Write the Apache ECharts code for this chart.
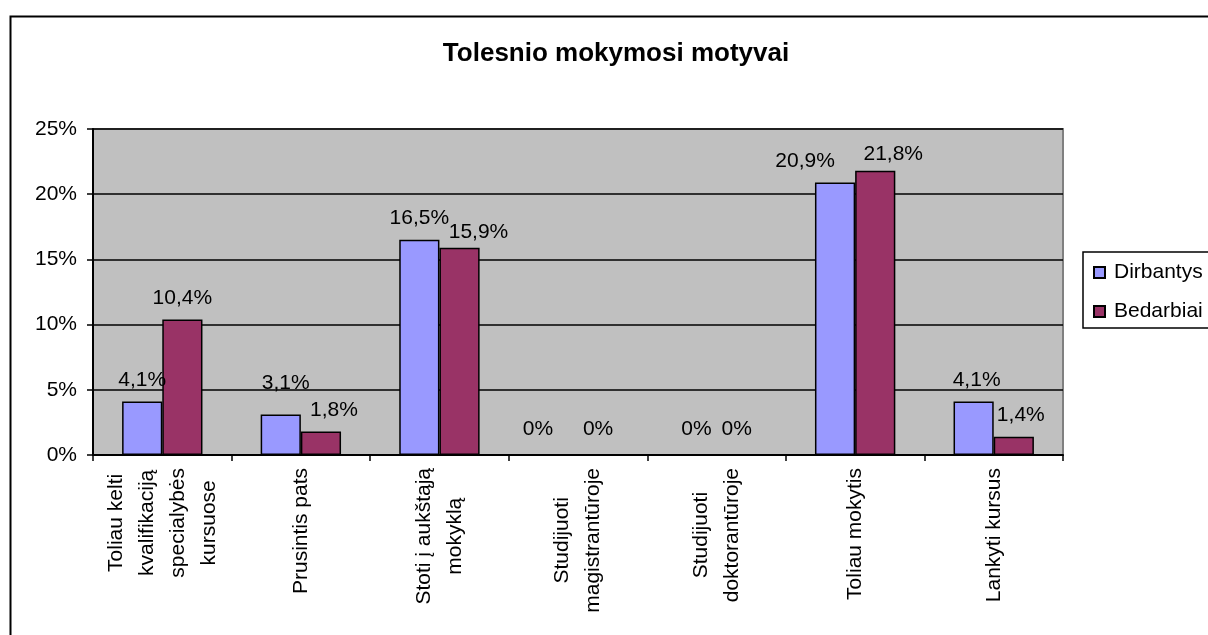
<!DOCTYPE html>
<html>
<head>
<meta charset="utf-8">
<script src="https://cdn.jsdelivr.net/npm/echarts@6/dist/echarts.min.js"></script>
<style>
html,body{margin:0;padding:0;background:#fff;}
#chart{width:1208px;height:635px;}
</style>
</head>
<body>
<div id="chart"></div>
<script>
// ---- data ----
const title = 'Tolesnio mokymosi motyvai';
const categories = [
  'Toliau kelti\nkvalifikaciją\nspecialybės\nkursuose',
  'Prusintis pats',
  'Stoti į aukštąją\nmokyklą',
  'Studijuoti\nmagistrantūroje',
  'Studijuoti\ndoktorantūroje',
  'Toliau mokytis',
  'Lankyti kursus'
];
const seriesNames = ['Dirbantys', 'Bedarbiai'];
const dirbantys = [4.1, 3.1, 16.5, 0, 0, 20.9, 4.1];
const bedarbiai = [10.4, 1.8, 15.9, 0, 0, 21.8, 1.4];
const yMin = 0, yMax = 25, yStep = 5;

// ---- styling (label nudges as in the original) ----
const labelShiftX = [
  [0, 5, 0, -20, 0, -30, 3],
  [0, 13, 19, 0, 0, 18, 7]
];
const labelShiftY = [
  [0, -10, 0, -4, -4, 0, 0],
  [0, 0, 6, -4, -4, 5, 0]
];
const colors = ['#9999FF', '#993366'];
const FONT = 'Liberation Sans, Arial, sans-serif';

function fmt(v) { return String(v).replace('.', ',') + '%'; }

function buildSeries(name, values, idx) {
  return {
    name: name,
    type: 'bar',
    barGap: '0%',
    barCategoryGap: '42%',
    itemStyle: { color: colors[idx], borderColor: '#000', borderWidth: 1.5 },
    label: {
      show: true, position: 'top', distance: 11,
      fontFamily: FONT, fontSize: 21, color: '#000',
      formatter: p => fmt(p.value)
    },
    data: values.map((v, i) => ({
      value: v,
      label: { offset: [labelShiftX[idx][i], labelShiftY[idx][i]] }
    }))
  };
}

const chart = echarts.init(document.getElementById('chart'), null, { renderer: 'canvas' });
chart.setOption({
  animation: false,
  backgroundColor: '#fff',
  textStyle: { fontFamily: FONT },
  title: {
    text: title, left: 611, top: 36, textAlign: 'center',
    textStyle: { fontFamily: FONT, fontSize: 26, fontWeight: 'bold', color: '#000' }
  },
  graphic: [{
    type: 'rect', left: 8, top: 14, silent: true,
    shape: { x: 0, y: 0, width: 1300, height: 700 },
    style: { fill: 'none', stroke: '#000', lineWidth: 2 }
  }],
  legend: {
    orient: 'vertical', left: 1083, top: 252,
    padding: [10, 12, 6, 10],
    itemWidth: 11, itemHeight: 11, itemGap: 18,
    borderColor: '#000', borderWidth: 1.5,
    icon: 'rect',
    textStyle: { fontFamily: FONT, fontSize: 21, color: '#000', padding: [0, 0, 0, 4] },
    data: seriesNames
  },
  grid: {
    left: 93, right: 145, top: 129, bottom: 180,
    show: true, backgroundColor: '#C0C0C0', borderColor: '#808080', borderWidth: 2
  },
  xAxis: {
    type: 'category', data: categories,
    axisLine: { lineStyle: { color: '#000', width: 2 } },
    axisTick: { show: true, length: 6, lineStyle: { color: '#000', width: 1.5 } },
    axisLabel: {
      rotate: 90, interval: 0, margin: 13, color: '#000',
      fontFamily: FONT, fontSize: 21, lineHeight: 31,
      formatter: v => v.split('\n').map(l => '{c|' + l + '}').join('\n'),
      rich: { c: { align: 'center', fontFamily: FONT, fontSize: 21, lineHeight: 31, color: '#000' } }
    }
  },
  yAxis: {
    type: 'value', min: yMin, max: yMax, interval: yStep,
    axisLine: { show: true, lineStyle: { color: '#000', width: 2 } },
    axisTick: { show: true, length: 6, lineStyle: { color: '#000', width: 1.5 } },
    axisLabel: { formatter: '{value}%', margin: 16, color: '#000', fontFamily: FONT, fontSize: 21 },
    splitLine: { show: true, lineStyle: { color: '#000', width: 1.5 } }
  },
  series: [
    buildSeries(seriesNames[0], dirbantys, 0),
    buildSeries(seriesNames[1], bedarbiai, 1)
  ]
});
</script>
</body>
</html>
